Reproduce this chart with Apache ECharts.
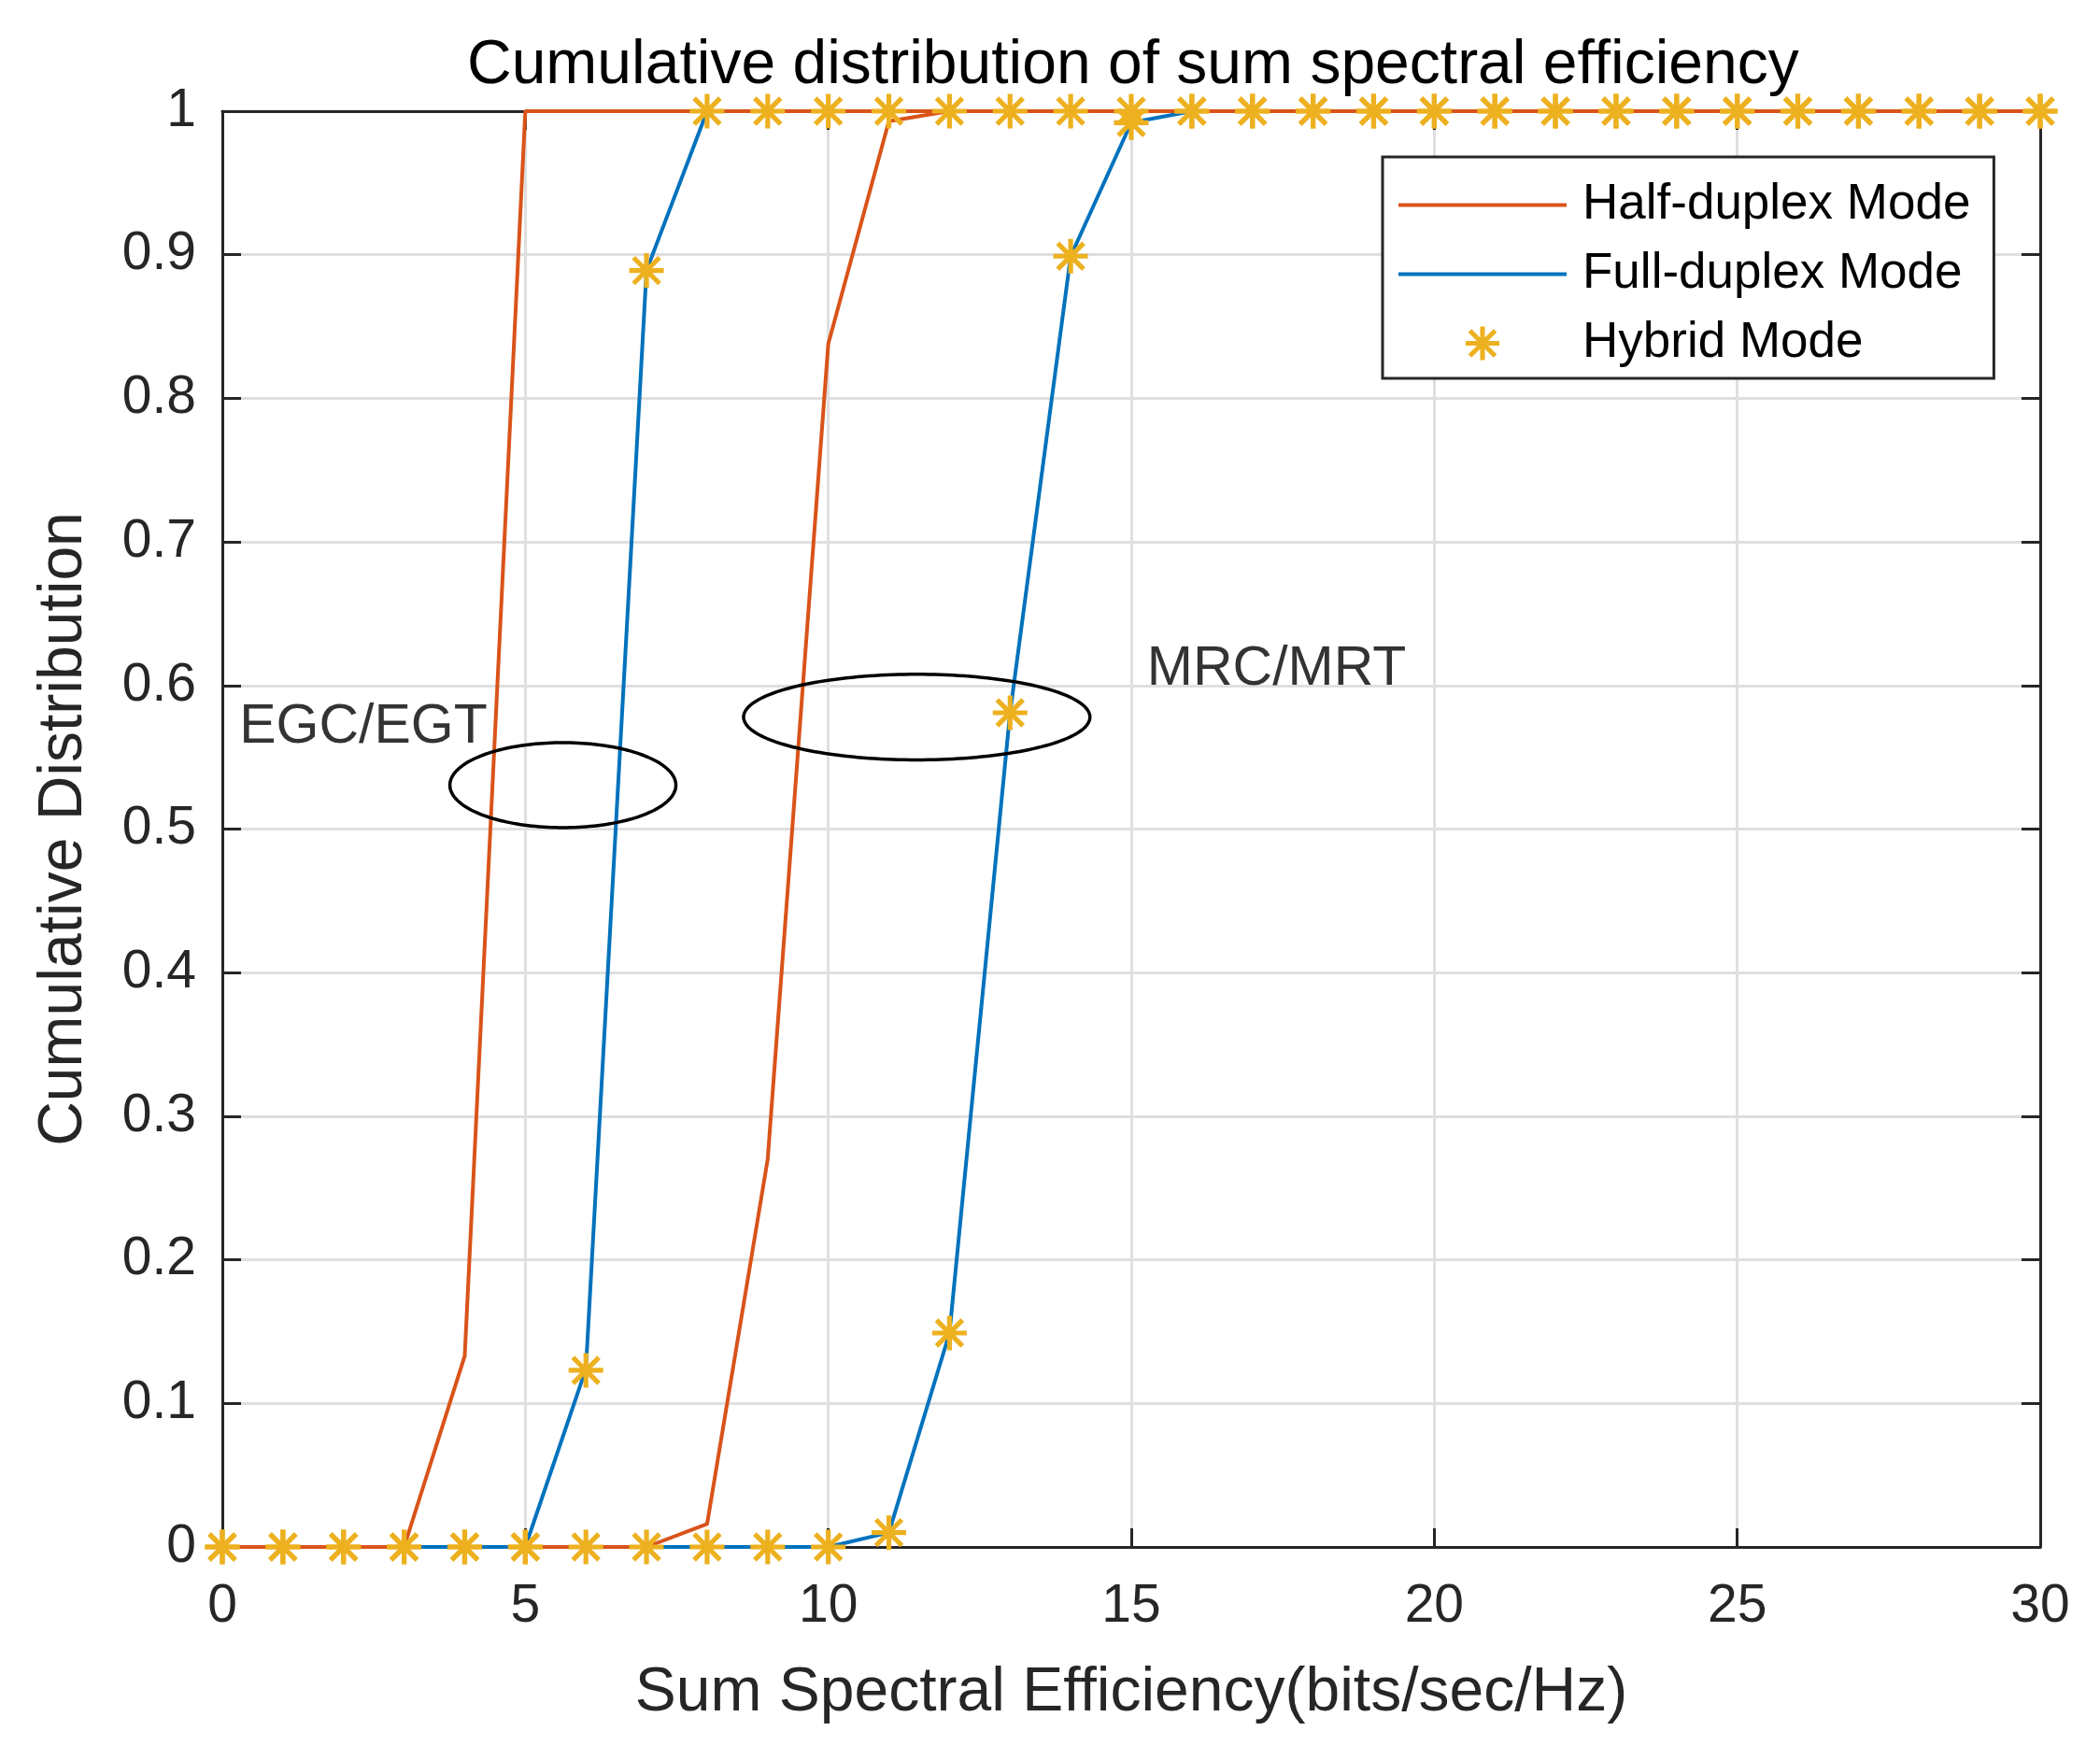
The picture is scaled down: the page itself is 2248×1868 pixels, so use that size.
<!DOCTYPE html>
<html>
<head>
<meta charset="utf-8">
<script src="https://cdn.jsdelivr.net/npm/echarts@6/dist/echarts.min.js"></script>
<style>
html,body{margin:0;padding:0;background:#fff;}
#chart{width:2248px;height:1868px;}
</style>
</head>
<body>
<div id="chart"></div>
<script>
// ---- data ----
const xValues   = [0,1,2,3,4,5,6,7,8,9,10,11,12,13,14,15,16,17,18,19,20,21,22,23,24,25,26,27,28,29,30];
// EGC/EGT curves
const egcHalf   = [0,0,0,0,0.133,1,1,1,1,1,1,1,1,1,1,1,1,1,1,1,1,1,1,1,1,1,1,1,1,1,1];
const egcFull   = [0,0,0,0,0,0,0.124,0.889,1,1,1,1,1,1,1,1,1,1,1,1,1,1,1,1,1,1,1,1,1,1,1];
const egcHybrid = [0,0,0,0,0,0,0.123,0.889,1,1,1,1,1,1,1,1,1,1,1,1,1,1,1,1,1,1,1,1,1,1,1];
// MRC/MRT curves
const mrcHalf   = [0,0,0,0,0,0,0,0,0.016,0.27,0.838,0.993,1,1,1,1,1,1,1,1,1,1,1,1,1,1,1,1,1,1,1];
const mrcFull   = [0,0,0,0,0,0,0,0,0,0,0,0.01,0.149,0.581,0.899,0.992,1,1,1,1,1,1,1,1,1,1,1,1,1,1,1];
const mrcHybrid = [0,0,0,0,0,0,0,0,0,0,0,0.01,0.149,0.581,0.899,0.992,1,1,1,1,1,1,1,1,1,1,1,1,1,1,1];
// annotations: [centerX, centerY, radiusX, radiusY] in data units
const ellipses  = [[5.62, 0.5306, 1.865, 0.0296], [11.46, 0.578, 2.858, 0.0298]];
const labels    = [{name: 'EGC/EGT', value: [0.28, 0.571]}, {name: 'MRC/MRT', value: [15.26, 0.611]}];
const legendNames = ['Half-duplex Mode', 'Full-duplex Mode', 'Hybrid Mode'];

const FONT = 'Liberation Sans, Arial, Helvetica, sans-serif';
const RED = '#D95319', BLUE = '#0072BD', YEL = '#EDB120', AX = '#262626';
const STAR = 'path://M43 0L57 0L57 100L43 100Z M0 43L100 43L100 57L0 57Z M17.45 7.55L92.45 82.55L82.55 92.45L7.55 17.45Z M82.55 7.55L92.45 17.45L17.45 92.45L7.55 82.55Z';
const LINE_ICON = 'path://M0 0L180 0L180 4L0 4Z';

function pairs(ys) { return xValues.map((x, i) => [x, ys[i]]); }
function lineSeries(name, ys, color) {
  return {
    name: name, type: 'line', data: pairs(ys), symbol: 'none', clip: false,
    lineStyle: {color: color, width: 4}, itemStyle: {color: color},
    emphasis: {disabled: true}, animation: false, z: 3
  };
}
function starSeries(ys) {
  return {
    name: 'Hybrid Mode', type: 'scatter', data: pairs(ys), symbol: STAR, symbolSize: 37,
    itemStyle: {color: YEL, opacity: 1}, clip: false, emphasis: {disabled: true},
    animation: false, z: 5
  };
}

const axisCommon = {
  type: 'value',
  axisLine: {show: true, onZero: false, lineStyle: {color: AX, width: 3}},
  axisTick: {show: true, inside: true, length: 20, lineStyle: {color: AX, width: 3}},
  axisLabel: {show: false},
  splitLine: {show: false}
};

const chart = echarts.init(document.getElementById('chart'), null, {renderer: 'canvas'});
chart.setOption({
  backgroundColor: '#fff',
  animation: false,
  title: {
    text: 'Cumulative distribution of sum spectral efficiency',
    left: 500, top: 38, padding: 0,
    textStyle: {fontSize: 66, fontWeight: 'normal', color: '#000', fontFamily: FONT}
  },
  grid: {left: 238, top: 119, right: 64, bottom: 212, containLabel: false, outerBoundsMode: 'none'},
  legend: {
    data: [
      {name: legendNames[0], icon: LINE_ICON},
      {name: legendNames[1], icon: LINE_ICON},
      {name: legendNames[2]}
    ],
    orient: 'vertical', left: 1480, top: 168,
    padding: [25, 25, 11, 17],
    backgroundColor: '#fff', borderColor: AX, borderWidth: 3, borderRadius: 0,
    itemWidth: 180, itemHeight: 36, itemGap: 21,
    selectedMode: false,
    textStyle: {fontSize: 53, color: '#000', fontFamily: FONT, padding: [0, 0, 0, 12]}
  },
  xAxis: [
    Object.assign({}, axisCommon, {
      min: 0, max: 30, interval: 5, position: 'bottom',
      name: 'Sum Spectral Efficiency(bits/sec/Hz)', nameLocation: 'middle', nameGap: 124,
      nameTextStyle: {fontSize: 66, color: AX, fontFamily: FONT},
      axisLabel: {show: true, fontSize: 57, color: AX, fontFamily: FONT, margin: 36},
      splitLine: {show: true, lineStyle: {color: '#dfdfdf', width: 3}}
    }),
    Object.assign({}, axisCommon, {min: 0, max: 30, interval: 5, position: 'top'})
  ],
  yAxis: [
    Object.assign({}, axisCommon, {
      min: 0, max: 1, interval: 0.1, position: 'left',
      name: 'Cumulative Distribution', nameLocation: 'middle', nameGap: 136,
      nameTextStyle: {fontSize: 66, color: AX, fontFamily: FONT},
      axisLabel: {show: true, fontSize: 57, color: AX, fontFamily: FONT, margin: 28},
      splitLine: {show: true, lineStyle: {color: '#dfdfdf', width: 3}}
    }),
    Object.assign({}, axisCommon, {min: 0, max: 1, interval: 0.1, position: 'right'})
  ],
  series: [
    lineSeries('Full-duplex Mode', mrcFull, BLUE),
    lineSeries('Half-duplex Mode', mrcHalf, RED),
    lineSeries('Full-duplex Mode', egcFull, BLUE),
    lineSeries('Half-duplex Mode', egcHalf, RED),
    starSeries(egcHybrid),
    starSeries(mrcHybrid),
    {
      type: 'custom', name: 'ellipse', data: ellipses, silent: true, z: 4, clip: false,
      renderItem: function (params, api) {
        const c = api.coord([api.value(0), api.value(1)]);
        const s = api.size([api.value(2), api.value(3)]);
        const pts = [];
        for (let i = 0; i <= 180; i++) {
          const t = i / 180 * Math.PI * 2;
          pts.push([c[0] + s[0] * Math.cos(t), c[1] + s[1] * Math.sin(t)]);
        }
        return {type: 'polygon', shape: {points: pts}, style: {fill: 'none', stroke: '#000', lineWidth: 3.5}};
      }
    },
    {
      type: 'scatter', name: 'annotation', data: labels, symbolSize: 0, silent: true,
      itemStyle: {color: 'rgba(0,0,0,0)'}, clip: false, z: 6,
      label: {show: true, position: 'right', distance: 0, formatter: '{b}', fontSize: 59, color: '#000', fontFamily: FONT}
    }
  ]
});
</script>
</body>
</html>
